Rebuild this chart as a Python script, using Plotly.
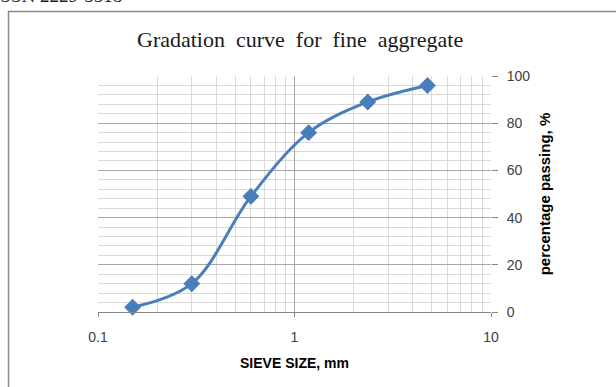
import plotly.graph_objects as go

sieve_mm = [0.15, 0.3, 0.6, 1.18, 2.36, 4.75]
passing_pct = [2, 12, 49, 76, 89, 96]

x_major = [0.1, 1, 10]
x_major_text = ["0.1", "1", "10"]
x_minor = [0.2, 0.3, 0.4, 0.5, 0.6, 0.7, 0.8, 0.9, 2, 3, 4, 5, 6, 7, 8, 9]

W, H = 616, 387
L, R, T, B = 98, 125, 76, 75
pw, ph = W - L - R, H - T - B

def px(xp):
    return (xp - L) / pw

def py(yp):
    return (H - B - yp) / ph

fig = go.Figure()
fig.add_trace(go.Scatter(
    x=sieve_mm, y=passing_pct, mode="lines+markers",
    line=dict(color="#4a7ebb", width=3, shape="spline", smoothing=1.0),
    marker=dict(symbol="diamond", size=13, color="#4a7ebb"),
    showlegend=False, cliponaxis=False,
))

fig.update_layout(
    width=W, height=H,
    margin=dict(l=L, r=R, t=T, b=B),
    paper_bgcolor="white", plot_bgcolor="white",
    font=dict(family="Liberation Sans", color="#404040"),
    xaxis=dict(
        type="log", range=[-1, 1],
        tickmode="array", tickvals=x_major, ticktext=x_major_text,
        showgrid=True, gridcolor="#a6a6a6", gridwidth=1,
        ticks="outside", ticklen=4, tickcolor="#868686",
        ticklabelstandoff=8,
        showline=True, linecolor="#868686", linewidth=1,
        tickfont=dict(size=14, color="#404040"),
        minor=dict(tickmode="array", tickvals=x_minor, showgrid=True,
                   gridcolor="#d9d9d9", gridwidth=1),
        title=dict(text="<b>SIEVE SIZE, mm</b>", font=dict(size=14, color="#000000"), standoff=14),
        zeroline=False,
    ),
    yaxis=dict(
        range=[0, 100], side="right", dtick=20, tick0=0,
        showgrid=True, gridcolor="#a6a6a6", gridwidth=1,
        ticks="outside", ticklen=6, tickcolor="#868686",
        ticklabelstandoff=6,
        tickfont=dict(size=14, color="#404040"),
        minor=dict(dtick=4, showgrid=True, gridcolor="#d9d9d9", gridwidth=1),
        title=dict(text="<b>percentage passing, %</b>", font=dict(size=15, color="#000000"), standoff=10),
        zeroline=False, showline=False,
    ),
)

# title
fig.add_annotation(
    text="Gradation&nbsp; curve&nbsp; for&nbsp; fine&nbsp; aggregate",
    xref="paper", yref="paper", x=px(300), y=py(40),
    showarrow=False, xanchor="center", yanchor="middle",
    font=dict(family="Liberation Serif", size=22, color="#1a1a1a"),
)

# partially cropped running header at top
fig.add_annotation(
    text="ISSN 2229-5518",
    xref="paper", yref="paper", x=px(124), y=py(8),
    showarrow=False, xanchor="right", yanchor="bottom",
    font=dict(family="Liberation Serif", size=19, color="#1a1a1a"),
)

# chart area border
fig.add_shape(
    type="rect", xref="paper", yref="paper",
    x0=px(8.5), x1=px(640), y0=py(11.5), y1=py(400),
    line=dict(color="#8a8a8a", width=1.5), fillcolor="rgba(0,0,0,0)", layer="below",
)

fig.write_html("out.html")
